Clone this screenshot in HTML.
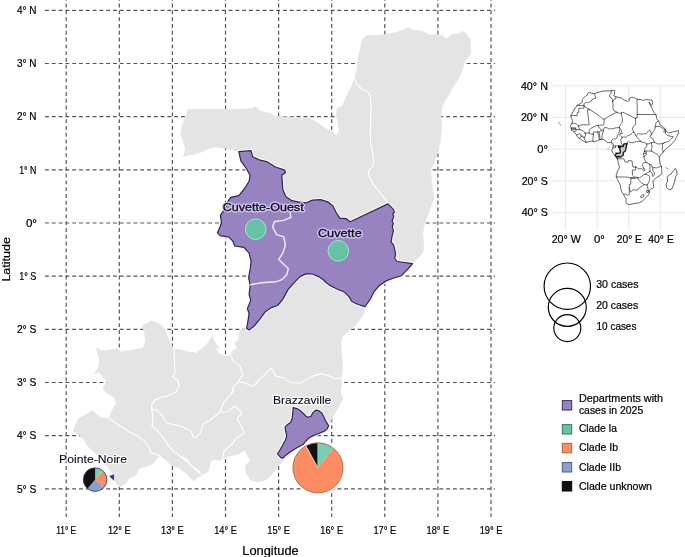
<!DOCTYPE html>
<html><head><meta charset="utf-8"><title>Map</title><style>html,body{margin:0;padding:0;background:#fff}body{width:685px;height:557px;overflow:hidden}svg{display:block;will-change:transform}text{font-family:"Liberation Sans",sans-serif}.t{fill:#050505;stroke:#050505;stroke-width:.22px}</style></head><body>
<svg width="685" height="557" viewBox="0 0 685 557">
<rect width="685" height="557" fill="#fff"/>
<g stroke="#555" stroke-width="1.2" stroke-dasharray="3.9 2.9" fill="none">
<path d="M66.2 0V517" stroke-dashoffset="3.2"/>
<path d="M119.3 0V517" stroke-dashoffset="3.2"/>
<path d="M172.4 0V517" stroke-dashoffset="3.2"/>
<path d="M225.5 0V517" stroke-dashoffset="3.2"/>
<path d="M278.6 0V517" stroke-dashoffset="3.2"/>
<path d="M331.7 0V517" stroke-dashoffset="3.2"/>
<path d="M384.8 0V517" stroke-dashoffset="3.2"/>
<path d="M437.9 0V517" stroke-dashoffset="3.2"/>
<path d="M491.0 0V517" stroke-dashoffset="3.2"/>
<path d="M45 10.3H495"/>
<path d="M45 63.5H495"/>
<path d="M45 116.6H495"/>
<path d="M45 169.8H495"/>
<path d="M45 223.0H495"/>
<path d="M45 276.2H495"/>
<path d="M45 329.3H495"/>
<path d="M45 382.5H495"/>
<path d="M45 435.7H495"/>
<path d="M45 488.8H495"/>
</g>
<path d="M354.7 78.8 L356.8 70.2 L357.4 64.1 L358 56.9 L360 50.8 L361.5 42.6 L363.5 37.9 L367.6 35.4 L376.8 35.4 L383.9 34.8 L394.2 33 L402.3 30.3 L408.5 27.3 L413.6 30.3 L423.8 31.4 L428.9 35 L437.1 34.8 L442.2 35.4 L446.3 39.1 L451.4 34.4 L459.6 33.4 L462.6 30.9 L466.7 34.4 L470.4 39.5 L470.8 53.8 L465.1 61 L462.6 69.2 L458.5 78.4 L453.4 86.5 L448.3 95.7 L444.2 101.9 L441.6 109 L440.8 121.3 L441.6 120 L441.2 132.3 L440.1 142.5 L437.7 152.7 L435 160.9 L430.9 168 L431.4 179.3 L432.4 189.5 L434.4 197.7 L429.9 209.4 L424.8 222.7 L422.8 233.9 L423.8 243.1 L423.4 251.3 L418.7 257.4 L412.6 263.6 L407.4 269.7 L401.3 275.8 L393.1 278.3 L386 280.9 L378.8 286.1 L373.7 292.2 L370.7 298.3 L367.6 303 L365 306.6 L364 313.7 L359.9 319.9 L354.8 326 L348.7 331.1 L342.6 336.2 L340.9 341.3 L341.5 353.6 L342.6 365.8 L341.5 378.1 L341.1 390.4 L339.9 390 L343 398.2 L337.9 408.4 L331.8 418.6 L328.7 426.8 L324.6 430.9 L317.4 433.9 L309.3 438 L303.1 444.2 L295 451.3 L287.8 456.4 L282.3 461.5 L280.1 463.6 L276.1 468.7 L270.9 475.8 L265.8 479.9 L257.7 482 L250.5 479.9 L246.4 473.8 L245.4 465.6 L250.5 460.5 L247.4 455.4 L245.4 450.3 L237.2 454.4 L227 456.4 L219.9 460.5 L214.7 459.5 L210.7 460.5 L208.6 470.7 L203.5 474.8 L198.4 476.9 L193.3 480.9 L186.7 473.8 L178.5 467.7 L171.4 465.6 L166.3 460.5 L160.1 455.4 L158.1 457.4 L153 463.6 L145.8 466.6 L138.7 468.7 L135.6 475.8 L129.5 477.9 L125.4 484 L119.3 487.1 L114.2 479.9 L111.1 471.8 L109.1 468.7 L100.9 459.5 L93.7 451.3 L87.6 446.2 L84.5 440.1 L78.4 433.9 L73.3 430.9 L75.3 425.8 L78.4 418.6 L84.5 415.5 L92.7 410.4 L99.9 417.6 L109.1 418.6 L112.1 410.4 L116.2 403.3 L114.2 397.2 L107 393.1 L103.3 390 L103.5 386.9 L107.6 381.8 L99.4 372.6 L94.7 373.6 L98.4 367.4 L99.4 359.3 L96.4 348 L101.5 350.7 L108.6 350.1 L117.8 348.6 L120.9 351.5 L133.1 350.1 L143.4 348 L145.4 340.9 L144.4 332.7 L142.3 325.5 L146.4 323.5 L151.5 320.8 L160.7 324.5 L163.8 328.6 L167.9 336.8 L170.9 343.9 L174 349.1 L181.2 350.1 L188.3 352.1 L196.5 353.1 L202.6 348 L207.7 342.9 L211.8 336.8 L215.9 343.9 L219.8 349.1 L208.2 343.4 L212.3 336.2 L216.4 348.5 L218.4 353.6 L225.5 356 L230.7 354.6 L232.7 350.5 L237.8 348.5 L234.7 343.4 L238.8 339.3 L239.9 330.1 L246.6 329.1 L248 320.9 L249.1 313.7 L247.4 308.6 L250.7 300.4 L249.1 294.3 L250.1 286.1 L250.1 284.8 L248.6 277.7 L250.1 269.5 L251.1 261.3 L249.1 253.1 L243.9 247.4 L234.7 246 L232.7 240.9 L228.6 236.8 L220.4 235.8 L217.4 232.7 L219.4 228.6 L221.5 222.5 L220.4 215.3 L225.5 207.9 L227.6 201.8 L230.7 197.3 L238.8 195.6 L243.9 189.5 L249.1 181.3 L250.1 175.2 L246 168 L240.9 160.9 L238.8 151.7 L229.3 149.1 L221.1 147.4 L213.9 147 L208.8 148.5 L202.7 151.5 L196.6 153.6 L188.4 155.2 L182.3 156.6 L184.3 154.6 L185.3 148.5 L183.3 141.3 L180.6 134.2 L182.3 125 L185.3 117.8 L188 109.2 L200.7 109.2 L221.1 109.2 L241.5 109.2 L251.8 108.6 L255.8 106.6 L259.9 110.7 L266.1 112.7 L271.2 113.1 L274.2 115.8 L284.5 116.8 L292.6 117.2 L300.8 118.4 L309.8 118.4 L318.8 123.4 L325 128.5 L331.1 130.5 L336.2 135.6 L339.3 131.5 L338.2 123.4 L336.2 115.2 L337.2 108 L342.3 106 L347.4 94.7 L351.5 86.6Z" fill="#e4e4e4" stroke="#e4e4e4" stroke-width="0.6" stroke-linejoin="round"/>
<g fill="none" stroke="#fff" stroke-width="1.15" stroke-linejoin="round" stroke-linecap="round">
<path d="M354.7 78.8 L357.4 84.5 L361.5 89 L366.6 91 L370.2 95.7 L371.1 104.9 L370.7 117.2 L371.1 120 L370.2 130.2 L370.7 144.5 L372.7 152.7 L373.7 160.9 L373.1 166.6 L369 169.5 L368.6 175.2 L372.7 183.4 L380.9 193.6 L388 202.8"/>
<path d="M174 349.1 L174.4 361.3 L175 372.6 L173 376.6 L178.1 380.7 L179.1 385.8 L176.1 392 L169.9 395 L161.8 397.1 L154.6 400.1 L151.5 405.3 L152 409.4"/>
<path d="M230.7 354.6 L233.7 361.8 L239.9 365.8 L242.9 375 L237.8 382.2 L233.7 386.3 L231.7 393.8"/>
<path d="M237.8 382.2 L242.9 382.2 L253.1 386.3 L261.3 378.1 L271.5 367.9 L275.6 376.1 L283.8 378.1 L289.9 382.2 L300.1 383.2 L305.8 380.1 L312.9 376.1 L321.1 373.6 L329.3 376.1 L335.4 378.5 L341.5 378.1"/>
<path d="M109.1 418.6 L115.2 422.7 L121.3 426.8 L129.5 431.9 L137.7 436 L144.8 441.1 L148.9 447.2 L150.9 452.3 L158.1 455.4 L160.1 455.4"/>
<path d="M152 409.4 L157.1 410.4 L162.2 415.5 L166.3 422.7 L174.5 424.7 L182.6 426.8 L190.8 430.9 L192.8 436"/>
<path d="M152 409.4 L153 420.7 L152 425.8 L158.1 430.9 L164.2 439.1 L170.4 448.2 L176.5 453.4 L184.7 459.5 L192.8 466.6 L199.8 471.8"/>
<path d="M221.9 460.5 L223.9 451.3 L232.1 444.2 L235.2 439.1 L244.4 432.9 L239.3 422.7 L237.2 417.6 L241.3 414.5 L239.3 409.4 L234.2 406.4 L228 411.5 L219.9 412.5 L215.8 415.5 L209.6 420.7 L203.5 423.7 L200.4 432.9 L195.3 438 L193.1 436.6"/>
<path d="M234.2 390 L230.1 395.1 L223.9 402.3 L219.9 412.5"/>
<path d="M180 456.4 L186.1 458.5 L191.2 465.6 L200.4 473.8 L203.5 474.8"/>
</g>
<path d="M238.8 151.7 L251.1 150.7 L252.7 156.8 L259.3 159.9 L267.4 161.9 L275.6 167 L284.8 170.1 L285.4 172.7 L281.8 175.2 L282.8 189.5 L285.8 196.6 L292 200.7 L298.1 201.8 L306.3 202.8 L312.4 200.1 L320.6 199.7 L327.7 201.8 L332.8 205.8 L335.9 212 L339.8 218.1 L346.1 218.6 L350.2 221.7 L388 203.9 L393.5 209.4 L394.4 212.1 L392.7 214.1 L393.8 216.6 L392.1 220.7 L393.3 223.7 L392.3 226.8 L393.5 230.9 L392.1 236 L391.1 242.1 L393.5 244.8 L394.4 248.2 L395.6 253.4 L394.8 258.5 L397.2 261.5 L412.6 263.6 L407.4 269.7 L401.3 275.8 L393.1 278.3 L386 280.9 L378.8 286.1 L373.7 292.2 L370.7 298.3 L367.6 303 L365 306.6 L357.9 304.5 L351.8 301.5 L348.7 296.4 L344.6 292.3 L337.4 289.2 L329.3 285.1 L324.2 281 L324.7 280.7 L318.5 276.6 L312.4 274 L306.3 273.6 L300.1 276.6 L294 282.8 L287.9 289.9 L282.8 299.4 L277.7 305.5 L271.5 307.6 L265.4 311.7 L259.3 319.9 L254.2 326 L249.1 330.1 L246.6 328.6 L248 320.9 L249.1 313.7 L247.4 308.6 L250.7 300.4 L249.1 294.3 L250.1 286.1 L250.1 284.8 L248.6 277.7 L250.1 269.5 L251.1 261.3 L249.1 253.1 L243.9 247.4 L234.7 246 L232.7 240.9 L228.6 236.8 L220.4 235.8 L217.4 232.7 L219.4 228.6 L221.5 222.5 L220.4 215.3 L225.5 207.9 L227.6 201.8 L230.7 197.3 L238.8 195.6 L243.9 189.5 L249.1 181.3 L250.1 175.2 L246 168 L240.9 160.9 L238.8 151.7Z" fill="none" stroke="#fdfdfd" stroke-width="3.2" stroke-linejoin="round"/>
<path d="M238.8 151.7 L251.1 150.7 L252.7 156.8 L259.3 159.9 L267.4 161.9 L275.6 167 L284.8 170.1 L285.4 172.7 L281.8 175.2 L282.8 189.5 L285.8 196.6 L292 200.7 L298.1 201.8 L306.3 202.8 L312.4 200.1 L320.6 199.7 L327.7 201.8 L332.8 205.8 L335.9 212 L339.8 218.1 L346.1 218.6 L350.2 221.7 L388 203.9 L393.5 209.4 L394.4 212.1 L392.7 214.1 L393.8 216.6 L392.1 220.7 L393.3 223.7 L392.3 226.8 L393.5 230.9 L392.1 236 L391.1 242.1 L393.5 244.8 L394.4 248.2 L395.6 253.4 L394.8 258.5 L397.2 261.5 L412.6 263.6 L407.4 269.7 L401.3 275.8 L393.1 278.3 L386 280.9 L378.8 286.1 L373.7 292.2 L370.7 298.3 L367.6 303 L365 306.6 L357.9 304.5 L351.8 301.5 L348.7 296.4 L344.6 292.3 L337.4 289.2 L329.3 285.1 L324.2 281 L324.7 280.7 L318.5 276.6 L312.4 274 L306.3 273.6 L300.1 276.6 L294 282.8 L287.9 289.9 L282.8 299.4 L277.7 305.5 L271.5 307.6 L265.4 311.7 L259.3 319.9 L254.2 326 L249.1 330.1 L246.6 328.6 L248 320.9 L249.1 313.7 L247.4 308.6 L250.7 300.4 L249.1 294.3 L250.1 286.1 L250.1 284.8 L248.6 277.7 L250.1 269.5 L251.1 261.3 L249.1 253.1 L243.9 247.4 L234.7 246 L232.7 240.9 L228.6 236.8 L220.4 235.8 L217.4 232.7 L219.4 228.6 L221.5 222.5 L220.4 215.3 L225.5 207.9 L227.6 201.8 L230.7 197.3 L238.8 195.6 L243.9 189.5 L249.1 181.3 L250.1 175.2 L246 168 L240.9 160.9 L238.8 151.7Z" fill="#9683bf" stroke="#2f2458" stroke-width="1.2" stroke-linejoin="round"/>
<path d="M289.9 211.2 L290.9 217.4 L283.8 220.4 L274.6 221.5 L272.6 226.6 L276.6 234.7 L283.8 236.8 L285.4 245 L282.8 253.1 L278.7 259.3 L283.8 264.4 L288.3 268.5 L286.9 274.6 L281.8 279.7 L275.6 281.8 L261.3 282.8 L250.1 284.8" fill="none" stroke="#f3eefb" stroke-width="1.4" stroke-linejoin="round"/>
<path d="M293.2 407.5 L296.9 408.6 L300.7 410.8 L303.4 413.5 L306.1 416.2 L308.2 417.2 L310.9 416.2 L313.1 412.4 L315.8 410.2 L319 410.8 L321.7 412.9 L323.8 416.7 L325.5 420.5 L327.1 423.2 L328.7 425.8 L327.1 429.1 L324.4 431.2 L320.6 432.8 L316.3 434.5 L312.5 436.1 L308.8 438.2 L305.5 441.5 L303.4 444.2 L299.6 446.3 L294.8 449 L290.5 451.7 L286.2 454.9 L282.9 458.2 L280.8 457.6 L277.5 453.8 L280.2 449.5 L282.9 444.7 L285.6 439.8 L286.7 435.5 L285.6 431.2 L285.1 426.9 L287.2 424.8 L290.5 422.6 L292.1 418.8 L292.6 414Z" fill="none" stroke="#fdfdfd" stroke-width="3.2" stroke-linejoin="round"/>
<path d="M293.2 407.5 L296.9 408.6 L300.7 410.8 L303.4 413.5 L306.1 416.2 L308.2 417.2 L310.9 416.2 L313.1 412.4 L315.8 410.2 L319 410.8 L321.7 412.9 L323.8 416.7 L325.5 420.5 L327.1 423.2 L328.7 425.8 L327.1 429.1 L324.4 431.2 L320.6 432.8 L316.3 434.5 L312.5 436.1 L308.8 438.2 L305.5 441.5 L303.4 444.2 L299.6 446.3 L294.8 449 L290.5 451.7 L286.2 454.9 L282.9 458.2 L280.8 457.6 L277.5 453.8 L280.2 449.5 L282.9 444.7 L285.6 439.8 L286.7 435.5 L285.6 431.2 L285.1 426.9 L287.2 424.8 L290.5 422.6 L292.1 418.8 L292.6 414Z" fill="#9683bf" stroke="#2f2458" stroke-width="1.2" stroke-linejoin="round"/>
<path d="M109.6 476.2L113.7 474.7L113.7 480.2Z" fill="#35306a" stroke="#2a2556" stroke-width="0.5"/>
<circle cx="255.7" cy="229.1" r="10.3" fill="#66c2a5" stroke="#a9e3d0" stroke-width="1"/>
<circle cx="338.3" cy="250.8" r="10.3" fill="#66c2a5" stroke="#a9e3d0" stroke-width="1"/>
<circle cx="317.9" cy="467.8" r="26.6" fill="#fff"/>
<path d="M317.9 467.8L317.90 442.80A25 25 0 0 1 333.10 447.95Z" fill="#74cfb4"/><path d="M317.9 467.8L333.10 447.95A25 25 0 1 1 305.86 445.89Z" fill="#fc8d62"/><path d="M317.9 467.8L305.86 445.89A25 25 0 0 1 317.90 442.80Z" fill="#111"/><circle cx="317.9" cy="467.8" r="25" fill="none" stroke="#b8623f" stroke-width="0.9"/>
<path d="M317.9 467.8L305.86 445.9" stroke="#fbd3c0" stroke-width="0.9"/><path d="M317.9 467.8V442.8" stroke="#9ee0cb" stroke-width="0.8"/>
<path d="M95.1 479.6L95.10 467.80A11.8 11.8 0 0 1 103.01 470.85Z" fill="#74cfb4"/><path d="M95.1 479.6L103.01 470.85A11.8 11.8 0 0 1 103.85 487.51Z" fill="#fc8d62"/><path d="M95.1 479.6L103.85 487.51A11.8 11.8 0 0 1 87.52 488.64Z" fill="#8da0cb"/><path d="M95.1 479.6L87.52 488.64A11.8 11.8 0 0 1 95.10 467.80Z" fill="#111"/><circle cx="95.1" cy="479.6" r="11.8" fill="none" stroke="#3c4666" stroke-width="0.9"/>
<text x="222.80" y="210.8" font-size="11.5" textLength="80.83" lengthAdjust="spacingAndGlyphs" stroke="#d8ccf3" stroke-width="3" stroke-linejoin="round" fill="none" opacity="0.9">Cuvette-Ouest</text><text x="222.80" y="210.8" font-size="11.5" textLength="80.83" lengthAdjust="spacingAndGlyphs" fill="#0b0b1c" stroke="#0b0b1c" stroke-width="0.3">Cuvette-Ouest</text>
<text x="317.90" y="237.0" font-size="11.5" textLength="43.82" lengthAdjust="spacingAndGlyphs" stroke="#d8ccf3" stroke-width="3" stroke-linejoin="round" fill="none" opacity="0.9">Cuvette</text><text x="317.90" y="237.0" font-size="11.5" textLength="43.82" lengthAdjust="spacingAndGlyphs" fill="#0b0b1c" stroke="#0b0b1c" stroke-width="0.3">Cuvette</text>
<text x="273.00" y="404.0" font-size="11.5" textLength="58.30" lengthAdjust="spacingAndGlyphs" stroke="#fff" stroke-width="2.6" stroke-linejoin="round" fill="none" opacity="0.9">Brazzaville</text><text x="273.00" y="404.0" font-size="11.5" textLength="58.30" lengthAdjust="spacingAndGlyphs" fill="#0b0b1c" stroke="#0b0b1c" stroke-width="0.1">Brazzaville</text>
<text x="59.10" y="463.0" font-size="11.5" textLength="67.88" lengthAdjust="spacingAndGlyphs" stroke="#fff" stroke-width="2.6" stroke-linejoin="round" fill="none" opacity="0.9">Pointe-Noire</text><text x="59.10" y="463.0" font-size="11.5" textLength="67.88" lengthAdjust="spacingAndGlyphs" fill="#0b0b1c" stroke="#0b0b1c" stroke-width="0.1">Pointe-Noire</text>
<text x="16.90" y="14.0" font-size="10.3" textLength="19.51" lengthAdjust="spacingAndGlyphs" class="t">4° N</text>
<text x="16.90" y="67.2" font-size="10.3" textLength="19.51" lengthAdjust="spacingAndGlyphs" class="t">3° N</text>
<text x="16.90" y="120.3" font-size="10.3" textLength="19.51" lengthAdjust="spacingAndGlyphs" class="t">2° N</text>
<text x="19.20" y="173.5" font-size="10.3" textLength="17.21" lengthAdjust="spacingAndGlyphs" class="t">1° N</text>
<text x="25.90" y="226.7" font-size="10.3" textLength="11.11" lengthAdjust="spacingAndGlyphs" class="t">0°</text>
<text x="19.20" y="279.9" font-size="10.3" textLength="17.21" lengthAdjust="spacingAndGlyphs" class="t">1° S</text>
<text x="16.90" y="333.0" font-size="10.3" textLength="19.51" lengthAdjust="spacingAndGlyphs" class="t">2° S</text>
<text x="16.90" y="386.2" font-size="10.3" textLength="19.51" lengthAdjust="spacingAndGlyphs" class="t">3° S</text>
<text x="16.90" y="439.4" font-size="10.3" textLength="19.51" lengthAdjust="spacingAndGlyphs" class="t">4° S</text>
<text x="16.90" y="492.5" font-size="10.3" textLength="19.51" lengthAdjust="spacingAndGlyphs" class="t">5° S</text>
<text x="56.25" y="533.6" font-size="10.3" textLength="19.88" lengthAdjust="spacingAndGlyphs" class="t">11° E</text>
<text x="107.95" y="533.6" font-size="10.3" textLength="22.72" lengthAdjust="spacingAndGlyphs" class="t">12° E</text>
<text x="161.05" y="533.6" font-size="10.3" textLength="22.72" lengthAdjust="spacingAndGlyphs" class="t">13° E</text>
<text x="214.15" y="533.6" font-size="10.3" textLength="22.72" lengthAdjust="spacingAndGlyphs" class="t">14° E</text>
<text x="267.25" y="533.6" font-size="10.3" textLength="22.72" lengthAdjust="spacingAndGlyphs" class="t">15° E</text>
<text x="320.35" y="533.6" font-size="10.3" textLength="22.72" lengthAdjust="spacingAndGlyphs" class="t">16° E</text>
<text x="373.45" y="533.6" font-size="10.3" textLength="22.72" lengthAdjust="spacingAndGlyphs" class="t">17° E</text>
<text x="426.55" y="533.6" font-size="10.3" textLength="22.72" lengthAdjust="spacingAndGlyphs" class="t">18° E</text>
<text x="479.65" y="533.6" font-size="10.3" textLength="22.72" lengthAdjust="spacingAndGlyphs" class="t">19° E</text>
<text x="242.30" y="554.7" font-size="12" textLength="56.38" lengthAdjust="spacingAndGlyphs" class="t">Longitude</text>
<g transform="translate(9.9,259.3) rotate(-90)"><text x="-22.30" y="0" font-size="11.4" textLength="44.58" lengthAdjust="spacingAndGlyphs" class="t">Latitude</text></g>
<g fill="none" stroke="#000" stroke-width="1.15"><circle cx="567.3" cy="286.2" r="23.2"/><circle cx="567.3" cy="307.3" r="19"/><circle cx="567.3" cy="328.1" r="13.5"/></g>
<text x="596.20" y="287.8" font-size="10.3" textLength="42.37" lengthAdjust="spacingAndGlyphs" class="t">30 cases</text><text x="596.20" y="308.9" font-size="10.3" textLength="41.97" lengthAdjust="spacingAndGlyphs" class="t">20 cases</text><text x="596.60" y="329.7" font-size="10.3" textLength="39.78" lengthAdjust="spacingAndGlyphs" class="t">10 cases</text>
<rect x="562.3" y="400.6" width="9.4" height="9.4" fill="#9683bf" stroke="#3a2d66" stroke-width="1"/>
<rect x="562.3" y="424.6" width="9.4" height="9.4" fill="#66c2a5" stroke="#2f7a62" stroke-width="1"/>
<rect x="562.3" y="443.4" width="9.4" height="9.4" fill="#fc8d62" stroke="#b5613c" stroke-width="1"/>
<rect x="562.3" y="462.6" width="9.4" height="9.4" fill="#8da0cb" stroke="#4e5e8c" stroke-width="1"/>
<rect x="562.3" y="481.6" width="9.4" height="9.4" fill="#111" stroke="#000" stroke-width="1"/>
<text x="578.90" y="402.1" font-size="10.3" textLength="84.21" lengthAdjust="spacingAndGlyphs" class="t">Departments with</text>
<text x="578.90" y="414.4" font-size="10.3" textLength="64.31" lengthAdjust="spacingAndGlyphs" class="t">cases in 2025</text>
<text x="578.90" y="432.4" font-size="10.3" textLength="38.05" lengthAdjust="spacingAndGlyphs" class="t">Clade Ia</text>
<text x="578.90" y="451.0" font-size="10.3" textLength="39.20" lengthAdjust="spacingAndGlyphs" class="t">Clade Ib</text>
<text x="578.90" y="470.5" font-size="10.3" textLength="42.17" lengthAdjust="spacingAndGlyphs" class="t">Clade IIb</text>
<text x="578.90" y="489.5" font-size="10.3" textLength="73.09" lengthAdjust="spacingAndGlyphs" class="t">Clade unknown</text>
<g stroke="#e8e8e8" stroke-width="0.95" fill="none">
<path d="M552 85.8H685"/>
<path d="M552 117.5H685"/>
<path d="M552 149.2H685"/>
<path d="M552 180.9H685"/>
<path d="M552 212.6H685"/>
<path d="M565.6 86V230"/>
<path d="M597.2 86V230"/>
<path d="M628.8 86V230"/>
<path d="M660.3 86V230"/>
</g>
<path d="M588.4 92.7 L589.3 92.5 L593 93.6 L594.2 93.8 L596.8 92.8 L602.4 91.1 L607.2 90.9 L610 90.9 L613.2 90.3 L615.1 90.8 L614.4 91.7 L614.4 92.7 L614.7 94.4 L613.6 95.7 L615.2 96.3 L615.8 96.8 L618.5 97.3 L621.5 98 L623.9 99.9 L627.7 101.4 L629.3 100.3 L629.3 98.5 L631.9 97.3 L633.7 97.4 L635.6 98.5 L637.5 99.3 L640.6 99.6 L643.5 100.4 L644.9 99.9 L646.6 99.5 L648.7 99.8 L650.1 100.1 L651.7 99.8 L652.8 102.6 L651.7 105.3 L650.1 103.8 L649 102 L649.9 104.5 L651 106.3 L652.8 109.8 L653.7 112.2 L655.9 114.5 L656.4 116.4 L656.4 118.3 L658.6 120.9 L659.6 123.2 L660 124.7 L662.2 126.1 L664 127.8 L665.7 129.3 L665.7 131 L666.3 131.3 L668.6 132.9 L671.1 132.3 L673.4 131.6 L675.3 131.5 L678.5 130.5 L678.7 132.9 L677.5 135.1 L676.3 137.5 L674.7 140.7 L672.7 143.1 L669.2 146.2 L666.3 148.6 L664.8 150 L663.3 152.1 L661.8 153.4 L660.3 155.7 L659.6 156.8 L659.1 158.1 L659.7 160.2 L659.9 162.9 L660.5 165.2 L661.5 166 L661.6 168.4 L661.8 170.8 L661.9 173.2 L660.7 175.1 L658 176.7 L656.1 177.9 L654.2 179.5 L652.8 180.8 L653.1 182.4 L653.4 184.3 L653.7 187.3 L652.6 188.5 L650.7 189.2 L649.1 190.6 L649.6 191.9 L649 193.8 L648.4 195 L646.6 196.8 L644.3 199.3 L641.7 201.7 L638.3 203.1 L634 203.6 L629.3 204.6 L626.9 203.8 L625.9 201.7 L626.3 199.3 L624.8 196.9 L623.7 194.7 L621.7 191.6 L620.7 188.2 L620.6 185.9 L619 182.7 L617.4 179.5 L616.3 176.8 L616.3 174.8 L617 173.2 L617.4 170.8 L618.8 169.2 L619.5 166.4 L618.2 163.7 L618.1 161.3 L617.1 158.9 L616.8 157.3 L616.3 156.7 L614.6 154.8 L612.8 153 L611.6 150.5 L612.5 148.8 L612.8 147.8 L613.2 146.4 L613.3 144.8 L612.8 143.2 L611.3 142.3 L608.7 142.6 L607.2 142.6 L605.6 140.7 L603.1 139.3 L601.5 139.4 L599.6 139.7 L597.7 140.5 L594.5 141.8 L592.8 141.3 L591.4 141.2 L588.2 142 L585.9 142.4 L583.2 141 L580.7 139.4 L579.6 138.5 L577.8 137.4 L576.9 135.9 L576.1 134.3 L574.5 132.6 L573.6 131.6 L572.1 130.5 L571.2 129.7 L571.3 128 L570.2 126.1 L571.3 124.8 L571.7 123.9 L572.5 120.7 L571.8 118.7 L570.9 116.4 L570.9 115.6 L571.8 114.1 L572.6 111.8 L574.2 110.3 L574.8 108 L576.6 106.6 L577.3 105.2 L580 103.9 L581.6 102.8 L582.4 101.2 L582.2 99.5 L583.2 98.2 L585.7 96.1 L587 95.5 L587.9 93.6Z" fill="#fff" stroke="#222" stroke-width="0.7" stroke-linejoin="round"/>
<path d="M675.5 168.4 L676.6 170.8 L677.2 174 L675.8 176.3 L674.7 181.1 L673.1 185.9 L671.9 189 L669 189.8 L666.7 187.4 L666 184.3 L667.8 181.1 L667.1 177.1 L669.5 174.8 L671.1 174 L673.4 170.8Z" fill="#fff" stroke="#222" stroke-width="0.7" stroke-linejoin="round"/>
<g fill="none" stroke="#222" stroke-width="0.65" stroke-linejoin="round" stroke-linecap="round">
<path d="M594.2 93.8 L595 95.5 L595.8 97.9 L595.6 98.5 L593.1 98.7 L592 100.3 L589.8 101.9 L587.4 102.6 L585.1 102.8 L584 103.9 L584 106.1"/>
<path d="M584 105.5 L576.9 105.5"/>
<path d="M584 106.1 L584 108.2 L578.8 108.2 L578.8 112.2 L577.2 112.5 L577.2 115.6 L570.9 115.6"/>
<path d="M584 106.1 L590.1 109.8 L599.6 116 L601.2 117.7 L602.7 119 L604.3 119.1 L609.5 116.1 L616.6 112.2"/>
<path d="M616.6 112.2 L613.8 110.6 L612.8 107.4 L613.2 105 L612.7 101.5"/>
<path d="M612.7 101.5 L612.1 98.7 L609.9 97.1 L609.5 95.2 L610.8 93.9 L611.3 90.9"/>
<path d="M612.7 101.5 L614 99.2 L615.8 98.7 L615.8 96.8"/>
<path d="M590.1 109.8 L587.4 109.8 L589.2 124.8 L583 124.8 L580.8 125 L579.1 125.5 L578.4 125.9"/>
<path d="M578.4 125.9 L576.4 124 L574.8 123.1 L573.2 123.2 L571.7 123.9"/>
<path d="M578.4 125.9 L579.7 129.7 L576.1 129.6 L571.3 129.9"/>
<path d="M571.3 127.8 L575.9 127.8 L575.9 128.5 L571.3 128.6"/>
<path d="M576.1 129.4 L576.1 130.9 L574 132.1"/>
<path d="M579.7 129.7 L582.7 130.4 L584.3 132 L585.1 133.2"/>
<path d="M576.7 135.1 L580 133.6 L580.8 134.5 L581.1 135.9 L581.4 136.2"/>
<path d="M581.4 136.2 L579.6 138.5"/>
<path d="M581.4 136.2 L582.7 135.9 L583 137.5 L584.3 137.4"/>
<path d="M584.3 137.4 L584.4 139.3 L586 141 L585.9 142.4"/>
<path d="M584.3 137.4 L585.5 135.9 L585.1 133.2"/>
<path d="M585.1 133.2 L587.9 132.8 L589 133.1 L590.6 134 L593.4 134.3"/>
<path d="M593.4 134.3 L593 138.3 L592.8 141.3"/>
<path d="M593.4 134.3 L593.3 132 L596.9 132 L597.7 131.8"/>
<path d="M597.7 131.8 L598.5 135.9 L599.6 139.7"/>
<path d="M597.7 131.8 L599.1 132 L600.2 139.6"/>
<path d="M599.1 132 L601.5 130.5 L602.3 129.7 L603.4 130.9"/>
<path d="M603.4 130.9 L602.1 135.1 L602 139.3"/>
<path d="M589 133.1 L589.3 130.4 L590.9 128.3 L593.3 127.2 L596.1 125.6 L598 125.6"/>
<path d="M598 125.6 L599.3 128 L601 129.4 L601.5 130.5"/>
<path d="M598 125.6 L599.8 125.1 L603.2 125.1 L604 124 L604.3 119.1"/>
<path d="M603.4 130.9 L604.2 127.7 L606.4 127.5 L608.7 128.8 L611.9 128.8 L616.6 127.7 L619.2 127.7"/>
<path d="M619.2 127.7 L620.4 124.7 L622.2 122.6 L622.3 117.7 L621.7 116.1 L621.4 112.9"/>
<path d="M616.6 112.2 L620.1 113.6 L621.4 112.9"/>
<path d="M621.4 112.9 L622.9 112.2 L635.6 118.5"/>
<path d="M635.6 118.5 L635.6 117.7 L637.2 117.7 L637.2 114.5"/>
<path d="M637.2 114.5 L637.2 103.1 L636.7 101.1 L637.5 99.3"/>
<path d="M637.2 114.5 L655.9 114.5"/>
<path d="M635.6 118.5 L635.6 124.5 L634 125.6 L633 127.2 L632.4 129.3 L633.8 132"/>
<path d="M619.2 127.7 L619.9 128.6 L621.4 130.4 L622.2 133.6 L620.1 133.6 L619.8 135.1 L622.2 137.5"/>
<path d="M622.2 137.5 L623.9 136.9 L626.1 137.4 L627.7 135.5 L629.9 135.1 L632.4 132.8 L633.8 132"/>
<path d="M619.9 128.6 L619.5 131.2 L618.7 133.6 L617.9 135.1 L616.5 138.3 L615.5 139.1 L613.5 138.5 L611.7 140.2 L611.3 142"/>
<path d="M622.2 137.5 L620.6 139.9 L621.4 142.3 L621.5 143.7 L623.1 145.9"/>
<path d="M623.1 145.9 L623.1 146.7 L618.7 145.9 L615.5 145.9 L613.2 145.8"/>
<path d="M615.5 145.9 L615.5 147.8 L612.8 147.8"/>
<path d="M627.1 143.9 L627.1 142.6 L628.3 141.5 L630 142.6 L633.2 142.7 L636.4 141.5 L640.9 141.5"/>
<path d="M618.4 156.7 L618.2 158.6 L617 158.6"/>
<path d="M633.8 132 L634.9 133.6 L635.9 135.6 L637.6 138.3 L639.5 139.9 L640.9 141.5"/>
<path d="M635.9 135.6 L637.2 134.3 L638.7 133.6 L641.9 134.3 L644.3 133.6 L646.1 134 L646.6 133.1 L649.3 130.1 L650.1 130.4 L651.2 133.2 L651.5 134.3"/>
<path d="M651.5 134.3 L652.9 132 L654.7 129.6 L655.3 126.7"/>
<path d="M655.3 126.7 L655.3 125.6 L656.1 122.5 L658.6 120.9"/>
<path d="M655.3 126.7 L657.7 126.4 L660 126.6 L662.1 128 L664.6 129.6"/>
<path d="M665.7 129.3 L664.6 129.6 L663.7 132 L665.4 132 L665.9 131.2"/>
<path d="M665.4 132 L665.6 133.6 L667.1 135.3 L671.9 136.7 L673.4 136.7 L668.7 141.5 L664 142.7 L663.8 143.2"/>
<path d="M663.8 143.2 L660 143.9 L657.7 143.9 L654.5 142.3 L654.4 142.1"/>
<path d="M663.8 143.2 L662.4 144.6 L662.4 149.4 L663.3 152.1"/>
<path d="M651.5 134.3 L649.8 136.7 L652.9 138.8 L653.7 140.8 L654.4 142.1"/>
<path d="M654.4 142.1 L651.4 142.7 L648.2 143.9 L646.5 143.9"/>
<path d="M640.9 141.5 L642.7 142.6 L644.3 142.1 L646.5 143.9"/>
<path d="M646.5 143.9 L647.1 145.9 L645 147.8 L644.4 151 L644.4 151.6"/>
<path d="M651.4 142.7 L652.1 147.5 L651.4 149.4 L651.4 151"/>
<path d="M651.4 151 L645.8 151 L644.4 151.6"/>
<path d="M651.4 151 L656.9 154.2 L657.2 154.9 L659.6 156.8"/>
<path d="M645.8 151 L646.3 153.2 L643.5 153.8"/>
<path d="M644.4 151.6 L643.5 153.8 L644.1 156.4"/>
<path d="M646.3 153.2 L646.3 154.6 L644.7 156.4 L644.1 156.4"/>
<path d="M644.1 156.4 L644.3 158.9 L646.3 162.4"/>
<path d="M646.3 162.4 L649.6 164.3"/>
<path d="M649.6 164.3 L651.4 164.6 L652.3 167.6 L652.8 167.8"/>
<path d="M652.8 167.8 L654.5 167.6 L656.9 167.9 L658.5 167.3 L661.5 166"/>
<path d="M652.8 167.8 L652.8 170.8 L654.2 172.4 L654.2 174.8 L653.2 176.5 L652 175.6 L652.3 173.2 L650.7 172.2 L650.1 171.6"/>
<path d="M649.6 164.3 L650.2 166.8 L649.8 169.2 L650.1 171.6"/>
<path d="M650.1 171.6 L647.4 172.4 L645.7 174.1"/>
<path d="M646.3 162.4 L643.3 162.9 L642.5 164.5 L643.5 168.9 L644.7 168.7 L644.7 170.6 L643.5 170.6 L641.1 168.4 L638.7 168.9 L636.2 167.2 L635.6 166.7"/>
<path d="M635.6 166.7 L635.6 170 L632.4 170 L632.4 175.1 L634.6 177.3"/>
<path d="M617.3 158.9 L619 158.8 L623.7 158.7 L625.3 162.2 L628.2 162.1 L628.5 160.5 L630 160.5 L632.1 161 L632.3 162.9 L632.4 164.5 L632.9 167 L635.4 167.3 L635.6 166.7"/>
<path d="M616.3 176.8 L620.1 177 L626.7 177 L630.8 177.9 L634.6 177.3 L636 177.1 L637.6 177.6"/>
<path d="M630.8 177.9 L630.8 178.4 L630.8 184.3 L629.3 184.3 L629.3 188.7"/>
<path d="M630.8 178.4 L634.8 178.4 L637.6 177.6"/>
<path d="M629.3 188.7 L629.3 194.4 L627.7 195.2 L625.2 193.9 L623.7 194.7"/>
<path d="M629.3 188.7 L630.4 191.9 L633.2 189.8 L637.9 190.1 L638.7 188.5 L644.1 184.6"/>
<path d="M644.1 184.6 L641.4 182.7 L638.7 180.3 L637.6 177.6"/>
<path d="M637.6 177.6 L639.5 177.9 L641.9 176.3 L643.5 174.8 L645.7 174.1"/>
<path d="M645.7 174.1 L649 175.6 L649.8 177.1 L649.6 179.5 L649 181.9 L647.1 184.9"/>
<path d="M644.1 184.6 L647.1 184.9"/>
<path d="M647.1 184.9 L648.2 189.8 L648 190.5 L648.4 191.9 L649.6 191.9"/>
<path d="M648 190.5 L646.6 190.6 L646.5 192.2 L648 192.7 L648.4 191.9Z"/>
<path d="M642.8 194.7 L640.6 196.2 L641.1 197.9 L643.6 196.9 L643.9 195Z"/>
</g>
<g fill="none" stroke="#666" stroke-width="0.7" stroke-linecap="round">
<path d="M559.8 124 L560.6 125.3"/>
<path d="M558.2 122.5 L559.4 123.1"/>
<path d="M611.4 143.5 L611.3 144.2"/>
<path d="M609.4 146.9 L609.4 147"/>
<path d="M608.1 148.9 L608.1 149.2"/>
<path d="M666 167.8 L667.8 168.7"/>
<path d="M668.9 169.7 L669 169.8"/>
</g>
<path d="M623.1 145.9 L623.9 143.9 L627.1 143.7 L627.1 143.9 L626.3 146.2 L625.8 149.4 L625.3 151.1 L623.3 152.6 L623.3 154.9 L621.8 156.2 L620.4 157.2 L619 156.4 L618.4 156.8 L618.4 156.7 L617.7 156.4 L616.6 157.3 L616.3 156.7 L615.2 155.6 L616 154.2 L616 153 L617.4 153.4 L620.1 153 L620.4 151 L619.8 149.4 L620.3 147.3 L618.5 147.5 L618.7 145.9 L623.1 146.7Z" fill="#c9c9c9" stroke="#111" stroke-width="1.3" stroke-linejoin="round"/>
<text x="520.90" y="89.5" font-size="10.3" textLength="27.02" lengthAdjust="spacingAndGlyphs" class="t">40° N</text>
<text x="520.90" y="121.2" font-size="10.3" textLength="27.02" lengthAdjust="spacingAndGlyphs" class="t">20° N</text>
<text x="537.20" y="152.9" font-size="10.3" textLength="10.71" lengthAdjust="spacingAndGlyphs" class="t">0°</text>
<text x="521.70" y="184.6" font-size="10.3" textLength="26.22" lengthAdjust="spacingAndGlyphs" class="t">20° S</text>
<text x="521.70" y="216.3" font-size="10.3" textLength="26.22" lengthAdjust="spacingAndGlyphs" class="t">40° S</text>
<text x="551.70" y="242.6" font-size="10.3" textLength="29.09" lengthAdjust="spacingAndGlyphs" class="t">20° W</text>
<text x="593.90" y="242.6" font-size="10.3" textLength="10.91" lengthAdjust="spacingAndGlyphs" class="t">0°</text>
<text x="616.70" y="242.6" font-size="10.3" textLength="25.32" lengthAdjust="spacingAndGlyphs" class="t">20° E</text>
<text x="648.30" y="242.6" font-size="10.3" textLength="25.52" lengthAdjust="spacingAndGlyphs" class="t">40° E</text>
</svg></body></html>
